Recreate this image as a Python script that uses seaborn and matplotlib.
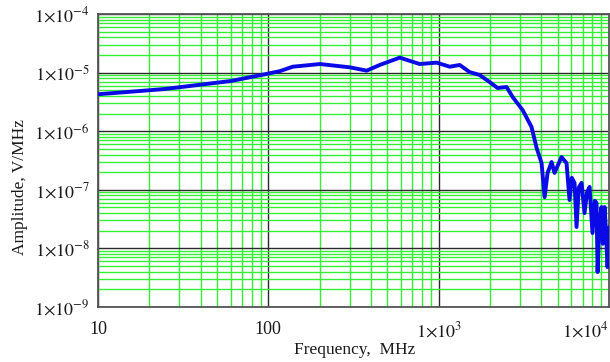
import numpy as np
import pandas as pd
import matplotlib
matplotlib.use("Agg")
import matplotlib.pyplot as plt
import seaborn as sns
from matplotlib.ticker import LogLocator, FixedLocator, FixedFormatter, NullFormatter

# ---- data ----
freq_mhz = [10, 15.6, 24.7, 38.6, 60.3, 95.3, 117, 139, 201, 301, 378, 451, 591,
            774, 973, 1161, 1329, 1520, 1740, 1991, 2218, 2505, 2717, 3110, 3510,
            3757, 4019, 4188, 4359, 4602, 4787, 5262, 5633, 5865, 6050, 6278, 6448,
            6650, 6900, 7183, 7430, 7689, 8000, 8250, 8450, 8570, 8800, 9040, 9200,
            9420, 9600, 9800, 10070]
amplitude = [4.27e-6, 4.72e-6, 5.25e-6, 6.14e-6, 7.19e-6, 9.35e-6, 1.06e-5, 1.26e-5,
             1.40e-5, 1.23e-5, 1.08e-5, 1.35e-5, 1.80e-5, 1.40e-5, 1.48e-5, 1.26e-5,
             1.35e-5, 1.02e-5, 9.1e-6, 6.9e-6, 5.46e-6, 5.68e-6, 3.84e-6, 2.30e-6,
             1.18e-6, 5.2e-7, 2.86e-7, 7.5e-8, 1.94e-7, 2.98e-7, 1.94e-7, 3.63e-7,
             2.86e-7, 6.7e-8, 1.6e-7, 1.31e-7, 2.32e-8, 1.1e-7, 1.31e-7, 4.0e-8,
             9.0e-8, 1.12e-7, 1.83e-8, 6.5e-8, 5.96e-8, 3.95e-9, 3.0e-8, 5.08e-8,
             1.2e-8, 5.08e-8, 2.0e-8, 4.8e-9, 2.32e-8]

x_ticks = [10, 100, 1000, 10000]
x_tick_labels = ["10", "100", r"$1{\times}10^{3}$", r"$1{\times}10^{4}$"]
y_ticks = [1e-9, 1e-8, 1e-7, 1e-6, 1e-5, 1e-4]
y_tick_labels = [r"$1{\times}10^{-9}$", r"$1{\times}10^{-8}$", r"$1{\times}10^{-7}$",
                 r"$1{\times}10^{-6}$", r"$1{\times}10^{-5}$", r"$1{\times}10^{-4}$"]

df = pd.DataFrame({"Frequency": freq_mhz, "Amplitude": amplitude})

sns.set_style("white")
plt.rcParams["font.family"] = ["Liberation Serif", "DejaVu Serif"]
plt.rcParams["mathtext.fontset"] = "stix"

fig = plt.figure(figsize=(6.10, 3.62), dpi=100)
ax = fig.add_axes([98 / 610, 55 / 362, 511 / 610, 293 / 362])

ax.set_xscale("log")
ax.set_yscale("log")
ax.set_xlim(10, 10000)
ax.set_ylim(1e-9, 1e-4)

# grid
ax.xaxis.set_minor_locator(LogLocator(base=10, subs=np.arange(2, 10)))
ax.yaxis.set_minor_locator(LogLocator(base=10, subs=np.arange(2, 10)))
ax.xaxis.set_minor_formatter(NullFormatter())
ax.yaxis.set_minor_formatter(NullFormatter())
ax.grid(which="minor", color="#33f033", linewidth=1.0, zorder=1)
ax.grid(which="major", color="#2a2a2a", linewidth=1.0, zorder=1.5)
ax.set_axisbelow(True)

sns.lineplot(data=df, x="Frequency", y="Amplitude", ax=ax, color="#0a0ae6",
             linewidth=2.8, estimator=None, sort=False, zorder=3)

ax.xaxis.set_major_locator(FixedLocator(x_ticks))
ax.xaxis.set_major_formatter(FixedFormatter(x_tick_labels))
ax.yaxis.set_major_locator(FixedLocator(y_ticks))
ax.yaxis.set_major_formatter(FixedFormatter(y_tick_labels))
ax.tick_params(which="both", length=0)
ax.tick_params(axis="x", labelsize=13, pad=10, colors="#1a1a1a")
ax.tick_params(axis="y", labelsize=13, pad=6, colors="#1a1a1a")

# keep the last x label inside the figure (reference shows it pushed left)
fig.canvas.draw()
last = ax.get_xticklabels()[-1]
last.set_horizontalalignment("right")
last.set_x(last.get_position()[0])

for s in ax.spines.values():
    s.set_color("#555555")
    s.set_linewidth(1.3)

ax.set_xlabel("Frequency,  MHz", fontsize=12.5, color="#1a1a1a")
ax.set_ylabel("Amplitude, V/MHz", fontsize=12.5, color="#1a1a1a")
ax.xaxis.set_label_coords(0.503, -0.12)
ax.yaxis.set_label_coords(-0.137, 0.41)

fig.savefig("out.png", dpi=100)
